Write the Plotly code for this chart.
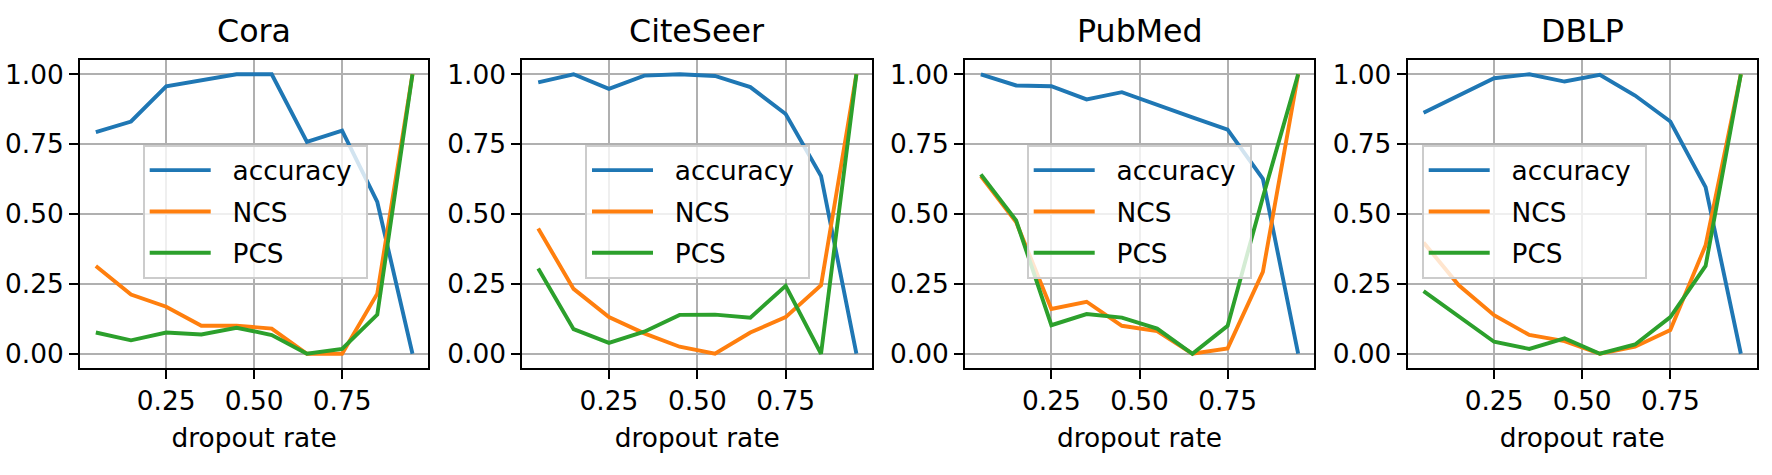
import plotly.graph_objects as go

dropout = [0.05, 0.15, 0.25, 0.35, 0.45, 0.55, 0.65, 0.75, 0.85, 0.95]
datasets = ["Cora", "CiteSeer", "PubMed", "DBLP"]

cora_acc = [0.793, 0.831, 0.957, 0.980, 1.000, 1.000, 0.758, 0.798, 0.543, 0.000]
cora_ncs = [0.314, 0.212, 0.168, 0.100, 0.100, 0.090, 0.000, 0.000, 0.215, 1.000]
cora_pcs = [0.076, 0.048, 0.076, 0.069, 0.093, 0.067, 0.000, 0.017, 0.140, 1.000]

citeseer_acc = [0.971, 1.000, 0.948, 0.995, 1.000, 0.994, 0.954, 0.858, 0.636, 0.000]
citeseer_ncs = [0.448, 0.232, 0.131, 0.073, 0.025, 0.000, 0.076, 0.131, 0.245, 1.000]
citeseer_pcs = [0.305, 0.088, 0.039, 0.079, 0.139, 0.140, 0.129, 0.243, 0.000, 1.000]

pubmed_acc = [1.000, 0.960, 0.957, 0.910, 0.936, 0.890, 0.846, 0.802, 0.626, 0.000]
pubmed_ncs = [0.636, 0.471, 0.160, 0.186, 0.100, 0.081, 0.000, 0.019, 0.293, 1.000]
pubmed_pcs = [0.642, 0.477, 0.102, 0.142, 0.129, 0.090, 0.000, 0.100, 0.560, 1.000]

dblp_acc = [0.862, 0.924, 0.986, 1.000, 0.974, 0.998, 0.924, 0.831, 0.596, 0.000]
dblp_ncs = [0.398, 0.245, 0.138, 0.067, 0.045, 0.000, 0.025, 0.085, 0.388, 1.000]
dblp_pcs = [0.224, 0.132, 0.043, 0.017, 0.055, 0.000, 0.033, 0.131, 0.314, 1.000]

series_names = ["accuracy", "NCS", "PCS"]
colors = ["#1f77b4", "#ff7f0e", "#2ca02c"]
all_data = [
    [cora_acc, cora_ncs, cora_pcs],
    [citeseer_acc, citeseer_ncs, citeseer_pcs],
    [pubmed_acc, pubmed_ncs, pubmed_pcs],
    [dblp_acc, dblp_ncs, dblp_pcs],
]

W, H = 1772, 475
panels_px = [(80, 428.3), (522.3, 872.3), (965, 1314), (1407.7, 1756.7)]
top_px, bottom_px = 60.3, 367.7
legend_left_px = [142.7, 585, 1026.7, 1421.7]
legend_top_px = 144.5

FONT = "DejaVu Sans"
FS = 26.4
TFS = 31.7
NB = "\u00a0"
fig = go.Figure()
layout = dict(
    width=W, height=H,
    margin=dict(l=0, r=0, t=0, b=0, autoexpand=False),
    paper_bgcolor="white", plot_bgcolor="white",
    font=dict(family=FONT, size=FS, color="black"),
    showlegend=True,
    annotations=[],
)

for i, (name, series) in enumerate(zip(datasets, all_data)):
    idx = "" if i == 0 else str(i + 1)
    leg = "legend" if i == 0 else f"legend{i + 1}"
    for s_name, vals, col in zip(series_names, series, colors):
        label = NB * 2 + s_name + (NB if s_name == "accuracy" else "")
        fig.add_trace(go.Scatter(
            x=dropout, y=vals, mode="lines", name=label,
            line=dict(color=col, width=3.9),
            xaxis="x" + idx, yaxis="y" + idx,
            legend=leg, legendgroup=f"{i}_{s_name}",
        ))
    l, r = panels_px[i]
    dom_x = [l / W, r / W]
    dom_y = [1 - bottom_px / H, 1 - top_px / H]
    common = dict(
        showline=True, mirror=True, linecolor="black", linewidth=2,
        ticks="outside", ticklen=9, tickwidth=2, tickcolor="black",
        showgrid=True, gridcolor="#b0b0b0", gridwidth=2, zeroline=False,
        tickfont=dict(size=FS), automargin=False,
    )
    layout["xaxis" + idx] = dict(
        domain=dom_x, anchor="y" + idx, range=[0.005, 0.995],
        tickvals=[0.25, 0.5, 0.75], tickformat=".2f",
        title=dict(text="dropout rate", font=dict(size=FS), standoff=13),
        **common,
    )
    layout["yaxis" + idx] = dict(
        domain=dom_y, anchor="x" + idx, range=[-0.05, 1.05],
        tickvals=[0, 0.25, 0.5, 0.75, 1.0], tickformat=".2f",
        **common,
    )
    layout[leg] = dict(
        x=legend_left_px[i] / W, y=1 - legend_top_px / H,
        xanchor="left", yanchor="top",
        bgcolor="rgba(255,255,255,0.8)", bordercolor="#cccccc", borderwidth=2,
        font=dict(size=FS), traceorder="grouped", tracegroupgap=4,
        itemwidth=61,
    )
    layout["annotations"].append(dict(
        text=name, x=(l + r) / 2 / W, y=1 - 51 / H,
        xref="paper", yref="paper", xanchor="center", yanchor="bottom",
        showarrow=False, font=dict(size=TFS),
    ))

fig.update_layout(**layout)
fig.write_html(
    "out.html",
    config={"displayModeBar": False},
    post_script="document.body.style.margin='0';document.body.style.padding='0';",
)
